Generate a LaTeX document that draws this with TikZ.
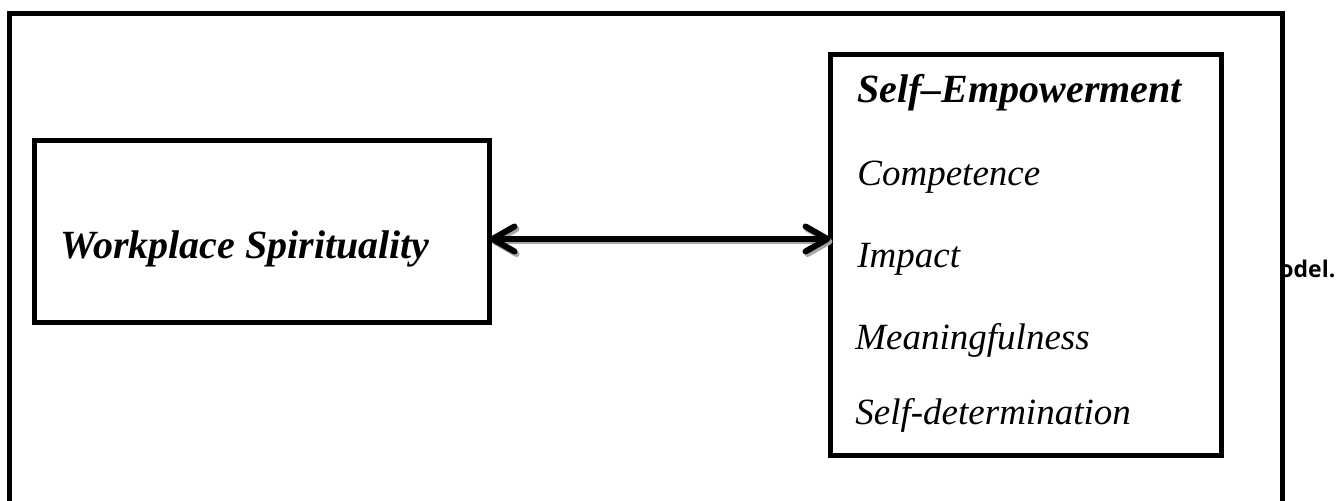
\documentclass[tikz,border=0pt]{standalone}
\usepackage{fontspec}
\setmainfont{Liberation Serif}
\newfontfamily\capfont{Open Sans}
\usetikzlibrary{arrows.meta}
\begin{document}
\begin{tikzpicture}[x=0.5pt,y=-0.5pt,
  boxline/.style={draw=black, line width=2.5pt},
  emptybox/.style={boxline, rectangle, inner sep=0pt, outer sep=0pt},
  headtext/.style={anchor=base west, inner sep=0pt, font=\fontsize{20}{24}\selectfont\bfseries\itshape},
  itemtext/.style={anchor=base west, inner sep=0pt, font=\fontsize{18.5}{22}\selectfont\itshape},
  link/.style={line width=3pt, {Straight Barb[round,length=11pt,width=12.5pt]}-{Straight Barb[round,length=11pt,width=12.5pt]}},
]
\useasboundingbox (0,0) rectangle (1338,501);
\clip (0,0) rectangle (1338,501);
% caption fragment, partly hidden behind the frame
\node[anchor=base west, inner sep=0pt, font=\capfont\bfseries\fontsize{11.5}{14}\selectfont] (cap) at (1279,278) {odel.};
% outer frame
\filldraw[boxline, fill=white] (9.5,13.5) rectangle (1282,540);
% boxes
\node[emptybox, minimum width=455*0.5pt, minimum height=182*0.5pt] (L) at (262,231.5) {};
\node[emptybox, minimum width=391*0.5pt, minimum height=401*0.5pt] (R) at (1026,255) {};
% texts
\node[headtext] (ws) at (60,259) {Workplace Spirituality};
\node[headtext] (se) at (857,103) {Self–Empowerment};
\node[itemtext] (c1) at (857,186) {Competence};
\node[itemtext] (c2) at (857,268) {Impact};
\node[itemtext] (c3) at (855,350) {Meaningfulness};
\node[itemtext] (c4) at (855,425) {Self-determination};
% double arrow with shadow
\coordinate (ay) at (0,239);
\draw[link, draw=black!35] ([shift={(2,2.5)}]L.east |- ay) -- ([shift={(2,2.5)}]R.west |- ay);
\draw[link] (L.east |- ay) -- (R.west |- ay);
\end{tikzpicture}
\end{document}
